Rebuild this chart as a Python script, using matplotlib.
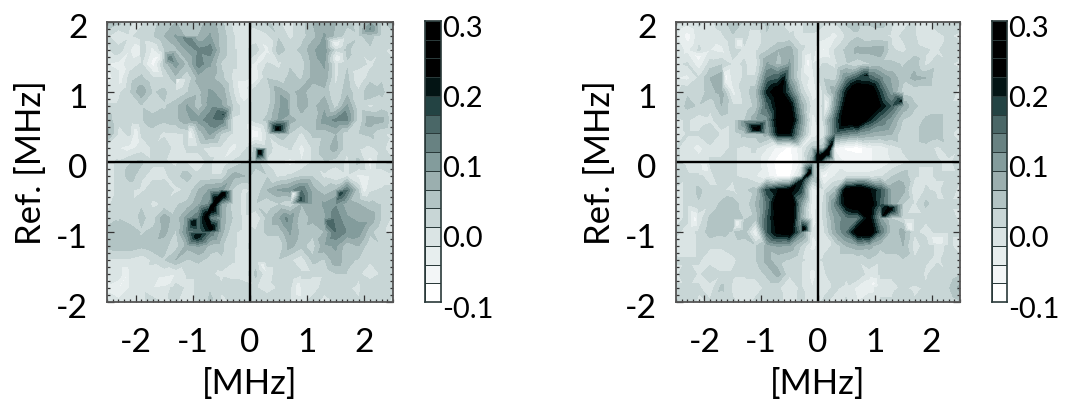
# correlation maps, two panels
import numpy as np
import matplotlib
matplotlib.use('Agg')
import matplotlib.pyplot as plt
from matplotlib.colors import ListedColormap
from matplotlib.transforms import ScaledTranslation

plt.rcParams['font.family'] = ['Lato', 'DejaVu Sans']
plt.rcParams['axes.unicode_minus'] = False

# values x 100, rows run from y = 2 down to y = -2
left_map = [
    [6, 4, 1, 0, 2, 5, 6, 4, 5, 7, 4, 0, -1, 2, 4, 1, 0, 2, 6, 7, 6, 4, 2, 8, 3, 4],
    [1, -2, 0, 2, 3, 6, 9, 5, 6, 9, 5, 1, -2, -1, 0, 3, 0, 2, 5, 9, 5, 2, 3, 4, 2, 3],
    [0, 2, -2, 3, -3, 3, 5, 9, 12, 13, 5, 1, 0, 2, -3, 5, 2, 4, 8, 11, 1, 4, 1, 3, 1, 0],
    [-2, -3, -1, 1, -6, 4, 10, 5, 13, 9, 3, 1, 0, -3, 1, 0, 3, 2, 7, 9, 0, 3, 2, 0, 2, 1],
    [-3, -1, 2, 4, 1, 1, 5, 1, 7, 7, 4, 0, 0, -4, 3, 2, 4, 3, 7, 8, 0, 4, -2, 2, 3, 1],
    [-1, 0, 3, 8, 3, 4, 1, 3, 5, 9, 8, 1, -5, 3, 1, 8, 5, 7, 4, 5, 1, 5, 1, 6, 4, 1],
    [1, 1, 2, 3, 1, 3, 5, 9, 4, 10, 9, 3, -1, 3, 2, 8, 4, 7, 5, 8, 2, 9, 1, 0, 2, 0],
    [5, 1, 2, 3, 5, 4, 5, 8, 10, 13, 14, 0, -1, 2, 4, 9, 7, 5, 4, 10, 12, 12, 1, 8, 7, 1],
    [7, 0, 1, 1, 2, 0, 0, 1, 4, 9, 3, 0, 0, -7, 1, 5, 3, 0, 4, 4, 6, 1, 3, 4, 1, 0],
    [-1, -2, -3, -1, 1, 3, -1, 1, 1, 0, 0, -3, 0, 4, 2, -1, 1, -3, 1, 5, 7, 1, 1, 0, 2, -3],
    [0, 1, 3, 4, 1, 1, 0, 0, 0, 1, -2, 1, 3, 5, 0, -2, -3, -2, 1, 3, 2, 0, 4, -3, 3, 1],
    [0, 1, 5, 1, 0, 0, 2, 5, 1, 1, 1, 7, 6, 1, 3, 0, 1, 3, 3, 0, -2, 0, -3, -2, -2, 0],
    [0, 1, 1, 0, 2, 3, 0, 1, 6, 9, 10, 3, 0, 1, 6, 9, 10, 14, 7, 4, 6, 14, 3, 0, 1, 1],
    [0, 2, 1, 3, 0, 1, 3, 4, 8, 12, 9, 2, 0, 3, 1, 3, 1, 6, 7, 9, 11, 7, 6, 4, 3, 1],
    [1, 3, 1, 4, 2, 8, 4, 10, 14, 13, 8, 3, 0, -2, 4, 8, 10, 4, 7, 8, 13, 9, 8, 8, 3, 0],
    [5, 4, 6, 3, 4, 7, 3, 12, 14, 14, 7, 1, 0, 1, 4, 4, 9, 5, 4, 6, 14, 11, 10, 4, 1, 0],
    [4, 5, 5, 4, 5, 4, 2, 7, 9, 5, 4, 1, 0, 2, 1, 1, 7, 4, 2, 8, 9, 4, 6, 1, 3, 1],
    [0, 0, 0, -1, 1, 3, 6, 3, 4, 2, 3, 1, -1, 2, 3, 3, 1, -1, 4, 3, 8, 4, 3, 1, 3, 1],
    [-2, 0, -2, 0, 0, -1, -2, 1, 1, 1, 0, -1, -1, 4, -2, 3, 3, 1, 1, 1, 3, 3, 1, -1, 1, 2],
    [-3, -5, -2, 0, -2, -1, 2, 0, 1, 3, 1, 3, 2, 1, -1, 1, 1, 0, -1, 2, 1, 1, 0, 3, 3, 1],
    [0, -1, -2, 0, 2, 0, 1, -1, 1, 4, 0, 1, 2, 3, 3, 1, 1, 0, 2, -1, 1, 2, 1, 0, 2, 0],
]
right_map = [
    [1, -1, 1, 0, 2, 5, 3, 4, 4, 1, -1, 0, 3, 1, 1, 4, 4, 4, 5, 1, 0, 1, -1, 2, 3, 2],
    [-2, -6, 0, -1, 0, 3, 2, -2, 3, 1, 1, 0, 0, -1, -3, 1, 3, 1, 1, 0, 1, 1, -2, 0, 1, 0],
    [0, -3, 1, -2, -3, 2, 0, 0, 3, 6, 8, 1, -1, -5, 1, 4, 7, 7, 8, 1, 0, 2, 1, 0, 3, 1],
    [0, 1, -4, 2, 3, 0, 1, -1, 9, 5, 9, 1, -2, 1, 0, 3, 1, 3, 4, 4, 3, 5, 0, 2, 1, 0],
    [-2, -3, 1, 6, 8, -1, 1, 1, 14, 16, 9, 0, -3, 3, 2, 12, 17, 16, 12, 8, 4, 7, 6, 1, 3, 1],
    [0, 3, 1, 5, 7, -3, 2, 5, 20, 26, 15, 3, -4, 1, 8, 21, 30, 28, 18, 9, 2, 1, 1, 1, 2, 0],
    [1, 4, 3, 1, 6, 1, 1, 4, 15, 24, 24, 8, -1, 1, 10, 25, 35, 30, 22, 16, 8, 4, 1, 1, 1, 1],
    [0, 1, -1, 0, 2, 1, 3, 8, 10, 25, 28, 11, -3, 1, 15, 28, 30, 20, 14, 9, 3, 1, 4, 5, 1, 1],
    [-2, 1, 1, 3, 0, 1, 4, 4, 7, 22, 22, 8, -4, -1, 14, 12, 10, 8, 7, 6, 1, 1, 6, 5, 1, 0],
    [1, -1, -3, 0, 0, 1, 0, 1, -2, -6, -8, -3, 4, 5, -5, -8, -9, -5, -4, -1, 1, 1, 2, 0, 2, 1],
    [1, 0, -1, 1, 1, 1, 0, 0, -5, -9, -9, -4, 8, 6, -3, -5, -5, -5, -4, -2, 0, 1, 1, 1, 0, 2],
    [3, 1, 1, 0, 2, 1, 0, -2, -4, -8, -8, 1, 7, -6, -2, -1, -1, -1, 0, 3, 5, 1, 0, 1, 1, 1],
    [0, 1, 4, 1, 1, 0, 3, 4, 18, 22, 24, 18, -4, 0, 5, 25, 28, 23, 17, 8, 7, -2, 1, 0, 2, 0],
    [0, 1, 3, 1, 4, 6, 1, 6, 14, 28, 30, 10, -4, 1, 12, 24, 28, 26, 16, 8, 3, 0, 4, 1, 1, 1],
    [0, 1, -1, 4, 6, 6, 3, 4, 16, 26, 30, 8, -3, 1, 9, 13, 13, 24, 9, 3, 1, 1, 1, 1, 2, 0],
    [1, 0, 1, 5, 4, 3, 5, -5, 16, 24, 26, 12, -2, 0, 8, 14, 26, 28, 14, 4, 7, 1, 0, 1, 1, 1],
    [0, -1, 1, 1, 1, 2, 1, 3, 7, 9, 8, 3, -3, 0, 1, 6, 8, 7, 4, 6, 6, -1, 2, 0, 1, 0],
    [1, 1, 1, -1, -1, 0, 2, 3, 7, 4, 3, 1, 0, 1, 1, 1, 1, 3, 1, 1, 3, 1, 1, 0, 2, 1],
    [0, 3, 0, 3, 1, 1, 1, 1, 4, 7, 1, 1, -3, 0, 3, 1, 3, -1, 1, 1, 2, 3, 0, 3, 1, 3],
    [1, 1, 1, -1, 4, 0, -1, 0, 1, 1, -1, 1, -2, 0, 1, 0, -3, -4, 0, 0, 1, 0, 1, 1, 3, 7],
    [1, 3, 0, 1, 0, 1, 0, 1, 3, 1, 0, 1, 0, 1, 0, 1, -2, 1, 1, 1, 3, 1, 1, 1, 1, 3],
]
# narrow peaks and pale spots that fall between the grid rows
left_peak_x = [0.16, 0.48, -0.47, -0.58, -0.67, -0.76, -0.67, -0.99, -0.93, 0.88, 1.58, 1.36, 0.64, 1.64, -0.47, -1.6,
               -1.93, -2.28, -1.29, -0.12, 0.18, 1.49, 1.52, 0.76, 0.23, -1.46, -2.16, 0.88, -1.99, -1.05, 1.99,
               -1.08, -1.4, 0.64, 2.1]
left_peak_y = [0.15, 0.47, -0.45, -0.55, -0.65, -0.77, -0.95, -0.86, -1.06, -0.55, -0.45, -0.86, -0.81, 0.67, 0.68, 1.5,
               1.6, 1.19, 1.19, 1.1, 1.48, 1.69, 1.48, -0.45, -1.48, -1.71, -1.62, -1.81, 0.43, 0.43, -0.38,
               1.76, 1.48, 0.79, 1.9]
left_peak_v = [26, 24, 26, 26, 26, 24, 24, 22, 22, 18, 18, 16, 12, 13, 17, -5,
               -4, -4, -4, -5, -4, -5, -5, -5, -4, -5, -5, -5, -4, -4, -4,
               13, 13, 11, 12]
right_peak_x = [-1.08, -0.61, 0.04, 0.16, 0.24, -0.14, -0.28, -0.25, 1.46, 1.27, 1.15, 0.86, -1.28,
                -2.28, -1.37, -2.1, -1.63, -0.17, 0.13, 0.98, 1.62, 2.12, -2.16, -1.43, -1.98]
right_peak_y = [0.47, 1.17, 0.05, 0.14, 0.25, -0.14, -0.26, -0.96, 0.87, -0.67, -0.76, 1.24, 0.57,
                1.79, 1.71, 1.5, 1.21, 1.43, 0.81, -1.74, -0.95, -1.14, -0.81, -0.86, -0.05]
right_peak_v = [26, 22, 30, 28, 22, 24, 20, 24, 20, 24, 22, 20, 12,
                -6, -6, -6, -6, -6, -6, -6, -6, -5, -6, -6, -5]

shades = ['#ffffff', '#f3f6f7', '#e7eeee', '#dae4e4', '#c8d6d6', '#b2c4c4', '#9bafaf',
          '#839c9c', '#688282', '#4a6767', '#234343', '#031414', '#000000', '#000000', '#000000']
xticks = [-2, -1, 0, 1, 2]
yticks = [-2, -1, 0, 1, 2]
bar_labels = ['-0.1', '0.0', '0.1', '0.2', '0.3']
bar_values = [-0.1, 0.0, 0.1, 0.2, 0.3]

W, H = 1070, 406
fig = plt.figure(figsize=(W / 100, H / 100), dpi=100)
levels = np.linspace(-0.1, 0.3, 16)
xs = np.linspace(-2.5, 2.5, 26)
ys = np.linspace(2, -2, 21)
edge = '#333333'
nudge = ScaledTranslation(0, -3 / 72, fig.dpi_scale_trans)


def panel(data, px, py, pv, x0, x1, bar0, bar1):
    top, bottom = 23, 303
    ax = fig.add_axes([x0 / W, 1 - bottom / H, (x1 - x0) / W, (bottom - top) / H])
    gx, gy = np.meshgrid(xs, ys)
    x = np.concatenate([gx.ravel(), px])
    y = np.concatenate([gy.ravel(), py])
    z = np.concatenate([np.ravel(data), pv]) / 100
    ax.tricontourf(x, y, np.clip(z, -0.099, 0.299), levels=levels, colors=shades)
    ax.axvline(0, color='black', lw=1.7)
    ax.axhline(0, color='black', lw=1.7)
    ax.set_xlim(-2.5, 2.5)
    ax.set_ylim(-2, 2)
    ax.set_xticks(xticks)
    ax.set_yticks(yticks)
    ax.set_xticks(np.arange(-2.5, 2.51, 0.1), minor=True)
    ax.set_yticks(np.arange(-2, 2.01, 0.1), minor=True)
    ax.tick_params(which='major', direction='in', top=True, right=True, length=5, width=0.9,
                   color=edge, labelsize=24)
    ax.tick_params(which='minor', direction='in', top=True, right=True, length=2.5, width=0.9, color=edge)
    ax.tick_params(axis='x', which='major', pad=18)
    ax.tick_params(axis='y', which='major', pad=14)
    for lab in ax.get_yticklabels():
        lab.set_transform(lab.get_transform() + ScaledTranslation(0, -2 / 72, fig.dpi_scale_trans))
    for s in ax.spines.values():
        s.set_linewidth(1.3)
        s.set_color('#555555')
    ax.set_xlabel('[MHz]', fontsize=25, labelpad=7)
    ax.set_ylabel('Ref. [MHz]', fontsize=25, labelpad=6)

    # stepped colour bar
    cax = fig.add_axes([bar0 / W, 1 - bottom / H, (bar1 - bar0) / W, (bottom - top + 1) / H])
    cax.pcolormesh([0, 1], levels, np.arange(15).reshape(-1, 1), cmap=ListedColormap(shades),
                   edgecolors='#2a3a3a', linewidth=0.6)
    cax.set_xticks([])
    cax.set_yticks(bar_values, bar_labels)
    cax.yaxis.tick_right()
    cax.tick_params(length=0, labelsize=21, pad=1)
    for lab in cax.get_yticklabels():
        lab.set_transform(lab.get_transform() + nudge)
    cax.set_ylim(-0.1, 0.3)
    for s in cax.spines.values():
        s.set_linewidth(1.2)
        s.set_color('#2a3a3a')


panel(left_map, left_peak_x, left_peak_y, left_peak_v, 107, 393, 425, 441)
panel(right_map, right_peak_x, right_peak_y, right_peak_v, 676, 960, 992, 1007)
fig.savefig('out.png', dpi=100)
